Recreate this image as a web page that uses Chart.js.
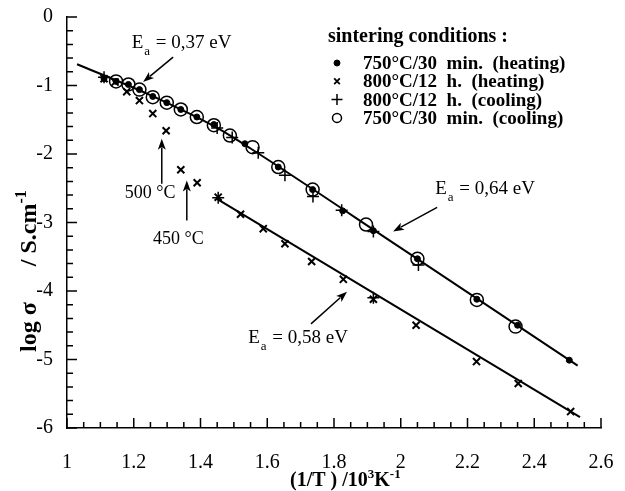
<!DOCTYPE html>
<html>
<head>
<meta charset="utf-8">
<script src="https://cdn.jsdelivr.net/npm/chart.js@4.4.1/dist/chart.umd.min.js"></script>
<style>
  html, body { margin: 0; padding: 0; background: #fff; }
  #wrap { width: 625px; height: 491px; }
</style>
</head>
<body>
<div id="wrap"><canvas id="c" width="625" height="491"></canvas></div>
<script>
// values: x = 1000/T (K^-1), y = log sigma (S/cm)
const heat750X = [1.111, 1.147, 1.184, 1.217, 1.257, 1.299, 1.341, 1.389, 1.44, 1.533, 1.633, 1.736, 1.826, 1.918, 2.05, 2.228, 2.35, 2.505];
const heat750Y = [-0.90, -0.94, -0.985, -1.06, -1.16, -1.25, -1.35, -1.46, -1.57, -1.85, -2.19, -2.52, -2.83, -3.12, -3.53, -4.12, -4.50, -5.01];

const heat800X = [1.111, 1.144, 1.179, 1.217, 1.257, 1.297, 1.341, 1.39, 1.453, 1.52, 1.588, 1.653, 1.733, 1.828, 1.918, 2.046, 2.227, 2.352, 2.509];
const heat800Y = [-0.90, -0.95, -1.09, -1.22, -1.41, -1.66, -2.23, -2.42, -2.63, -2.88, -3.09, -3.31, -3.57, -3.83, -4.12, -4.50, -5.03, -5.35, -5.76];

const cool800X = [1.111, 1.45, 1.495, 1.573, 1.653, 1.737, 1.823, 1.918, 2.053, 1.453, 1.918];
const cool800Y = [-0.88, -1.62, -1.76, -1.98, -2.31, -2.62, -2.82, -3.13, -3.62, -2.64, -4.10];

const cool750X = [1.147, 1.184, 1.217, 1.257, 1.299, 1.341, 1.389, 1.44, 1.488, 1.556, 1.633, 1.736, 1.896, 2.05, 2.228, 2.344];
const cool750Y = [-0.94, -0.985, -1.06, -1.17, -1.25, -1.35, -1.46, -1.58, -1.73, -1.90, -2.19, -2.52, -3.03, -3.53, -4.13, -4.52];

// drawn fit lines
const fitUpX = [1.03, 1.15, 1.25, 1.35, 1.45, 1.55, 2.0, 2.53];
const fitUpY = [-0.69, -0.93, -1.14, -1.37, -1.62, -1.92, -3.37, -5.09];
const fitLowX = [1.448, 2.537];
const fitLowY = [-2.65, -5.84];

const legendLabels = ['750\u00B0C/30  min.  (heating)', '800\u00B0C/12  h.  (heating)', '800\u00B0C/12  h.  (cooling)', '750\u00B0C/30  min.  (cooling)'];
const xTicks = [1, 1.2, 1.4, 1.6, 1.8, 2, 2.2, 2.4, 2.6];
const yTicks = [0, -1, -2, -3, -4, -5, -6];

// annotations, in data units
const eaNotes = [
  { text: '0,37', x: 1.194, y: -0.454, tail: [1.318, -0.585], head: [1.228, -0.95] },
  { text: '0,64', x: 2.103, y: -2.58, tail: [2.109, -2.78], head: [1.977, -3.13] },
  { text: '0,58', x: 1.543, y: -4.754, tail: [1.731, -4.48], head: [1.839, -4.01] }
];
const tempNotes = [
  { text: '500 \u00B0C', x: 1.325, y: -2.64, align: 'right', tail: [1.284, -2.435], head: [1.284, -1.776] },
  { text: '450 \u00B0C', x: 1.258, y: -3.313, align: 'left', tail: [1.359, -2.972], head: [1.359, -2.387] }
];

const pts = (xs, ys) => xs.map((x, i) => ({ x: x, y: ys[i] }));
const SERIF = "'Liberation Serif', 'Times New Roman', serif";

const styles = [
  { pointStyle: 'circle', pointRadius: 3, pointBorderWidth: 1, pointBackgroundColor: '#000', pointBorderColor: '#000' },
  { pointStyle: 'crossRot', pointRadius: 5, pointBorderWidth: 2, pointBackgroundColor: '#000', pointBorderColor: '#000' },
  { pointStyle: 'cross', pointRadius: 6, pointBorderWidth: 1.5, pointBackgroundColor: '#000', pointBorderColor: '#000' },
  { pointStyle: 'circle', pointRadius: 6.5, pointBorderWidth: 1.5, pointBackgroundColor: 'rgba(0,0,0,0)', pointBorderColor: '#000' }
];

const drawArrow = (ctx, x1, y1, x2, y2) => {
  const a = Math.atan2(y2 - y1, x2 - x1);
  const hl = 11, hw = 4;
  ctx.beginPath();
  ctx.moveTo(x1, y1);
  ctx.lineTo(x2 - Math.cos(a) * hl * 0.8, y2 - Math.sin(a) * hl * 0.8);
  ctx.stroke();
  ctx.beginPath();
  ctx.moveTo(x2, y2);
  ctx.lineTo(x2 - Math.cos(a) * hl + Math.sin(a) * hw, y2 - Math.sin(a) * hl - Math.cos(a) * hw);
  ctx.lineTo(x2 - Math.cos(a) * hl * 0.75, y2 - Math.sin(a) * hl * 0.75);
  ctx.lineTo(x2 - Math.cos(a) * hl - Math.sin(a) * hw, y2 - Math.sin(a) * hl + Math.cos(a) * hw);
  ctx.closePath();
  ctx.fill();
};

const decor = {
  id: 'decor',
  afterDraw(chart) {
    const ctx = chart.ctx;
    const xs = chart.scales.x, ys = chart.scales.y;
    const area = chart.chartArea;
    ctx.save();
    ctx.strokeStyle = '#000';
    ctx.fillStyle = '#000';
    ctx.lineWidth = 1.5;

    // inward ticks
    ctx.beginPath();
    for (let i = 0; i <= 32; i++) {
      const v = 1 + i * 0.05;
      const px = xs.getPixelForValue(v);
      const len = i % 4 === 0 ? 10 : 6;
      ctx.moveTo(px, area.bottom);
      ctx.lineTo(px, area.bottom - len);
    }
    for (let i = 0; i <= 30; i++) {
      const v = -i * 0.2;
      const py = ys.getPixelForValue(v);
      const len = i % 5 === 0 ? 10 : 6;
      ctx.moveTo(area.left, py);
      ctx.lineTo(area.left + len, py);
    }
    ctx.stroke();

    // legend
    const lx = area.left + 261, ly = area.top + 25;
    ctx.font = 'bold 20px ' + SERIF;
    ctx.textBaseline = 'alphabetic';
    ctx.textAlign = 'left';
    ctx.fillText('sintering conditions :', lx, ly);
    ctx.font = 'bold 19px ' + SERIF;
    const legendMarks = [
      { pointStyle: 'circle', radius: 3, borderWidth: 1, fill: true },
      { pointStyle: 'crossRot', radius: 4, borderWidth: 1.8 },
      { pointStyle: 'cross', radius: 5.5, borderWidth: 1.5 },
      { pointStyle: 'circle', radius: 4.5, borderWidth: 1.5, fill: false }
    ];
    legendLabels.forEach((label, i) => {
      const cy = area.top + 46 + i * 18.3;
      const m = legendMarks[i];
      ctx.fillStyle = m.fill === false ? 'rgba(0,0,0,0)' : '#000';
      ctx.lineWidth = m.borderWidth;
      Chart.helpers.drawPoint(ctx, { pointStyle: m.pointStyle, radius: m.radius, borderWidth: m.borderWidth, rotation: 0 }, lx + 9, cy);
      ctx.fillStyle = '#000';
      ctx.fillText(label, lx + 35, cy + 6);
    });

    // activation energy notes
    ctx.lineWidth = 1.5;
    eaNotes.forEach(n => {
      const x = xs.getPixelForValue(n.x), y = ys.getPixelForValue(n.y);
      ctx.font = '19px ' + SERIF;
      ctx.fillText('E', x, y);
      const w = ctx.measureText('E').width;
      ctx.font = '13px ' + SERIF;
      ctx.fillText('a', x + w + 1, y + 7);
      const wa = ctx.measureText('a').width;
      ctx.font = '19px ' + SERIF;
      ctx.fillText(' = ' + n.text + ' eV', x + w + wa + 2, y);
      drawArrow(ctx, xs.getPixelForValue(n.tail[0]), ys.getPixelForValue(n.tail[1]),
        xs.getPixelForValue(n.head[0]), ys.getPixelForValue(n.head[1]));
    });
    tempNotes.forEach(n => {
      ctx.font = '18px ' + SERIF;
      ctx.textAlign = n.align;
      ctx.fillText(n.text, xs.getPixelForValue(n.x), ys.getPixelForValue(n.y));
      drawArrow(ctx, xs.getPixelForValue(n.tail[0]), ys.getPixelForValue(n.tail[1]),
        xs.getPixelForValue(n.head[0]), ys.getPixelForValue(n.head[1]));
    });
    ctx.textAlign = 'left';

    // x title
    let tx = 290;
    const tb = 486;
    const seg = (txt, size, dy) => {
      ctx.font = 'bold ' + size + 'px ' + SERIF;
      ctx.fillText(txt, tx, tb + dy);
      tx += ctx.measureText(txt).width;
    };
    seg('(1/T ) /10', 20, 0);
    seg('3', 13, -8);
    seg('K', 20, 0);
    seg('-1', 13, -8);

    // y title
    ctx.save();
    ctx.translate(36, 352);
    ctx.rotate(-Math.PI / 2);
    tx = 0;
    const segY = (txt, size, dy) => {
      ctx.font = 'bold ' + size + 'px ' + SERIF;
      ctx.fillText(txt, tx, dy);
      tx += ctx.measureText(txt).width;
    };
    segY('log \u03C3      / S.cm', 24, 0);
    segY('-1', 16, -10);
    ctx.restore();

    ctx.restore();
  }
};

new Chart(document.getElementById('c'), {
  type: 'scatter',
  data: {
    datasets: [
      Object.assign({ label: legendLabels[0], data: pts(heat750X, heat750Y) }, styles[0]),
      Object.assign({ label: legendLabels[1], data: pts(heat800X, heat800Y) }, styles[1]),
      Object.assign({ label: legendLabels[2], data: pts(cool800X, cool800Y) }, styles[2]),
      Object.assign({ label: legendLabels[3], data: pts(cool750X, cool750Y) }, styles[3]),
      { label: 'fit high', data: pts(fitUpX, fitUpY), showLine: true, pointRadius: 0, borderColor: '#000', borderWidth: 2, cubicInterpolationMode: 'monotone' },
      { label: 'fit low', data: pts(fitLowX, fitLowY), showLine: true, pointRadius: 0, borderColor: '#000', borderWidth: 2 }
    ]
  },
  options: {
    responsive: false,
    animation: false,
    layout: { padding: { top: 17, right: 24, left: 0, bottom: 0 } },
    plugins: { legend: { display: false }, tooltip: { enabled: false } },
    scales: {
      x: {
        type: 'linear', min: 1, max: 2.6,
        afterFit: s => { s.height = 63; s.paddingLeft = 0; s.paddingRight = 0; },
        afterBuildTicks: s => { s.ticks = xTicks.map(v => ({ value: v })); },
        grid: { display: false, drawTicks: false },
        border: { display: true, color: '#000', width: 1.5 },
        ticks: { color: '#000', padding: 23, font: { family: SERIF, size: 20 }, maxRotation: 0, autoSkip: false,
          callback: v => String(Math.round(v * 10) / 10) }
      },
      y: {
        type: 'linear', min: -6, max: 0,
        afterFit: s => { s.width = 67; s.paddingTop = 0; s.paddingBottom = 0; },
        afterBuildTicks: s => { s.ticks = yTicks.map(v => ({ value: v })); },
        grid: { display: false, drawTicks: false },
        border: { display: true, color: '#000', width: 1.5 },
        ticks: { color: '#000', padding: 14, font: { family: SERIF, size: 20 } }
      }
    }
  },
  plugins: [decor]
});
</script>
</body>
</html>
